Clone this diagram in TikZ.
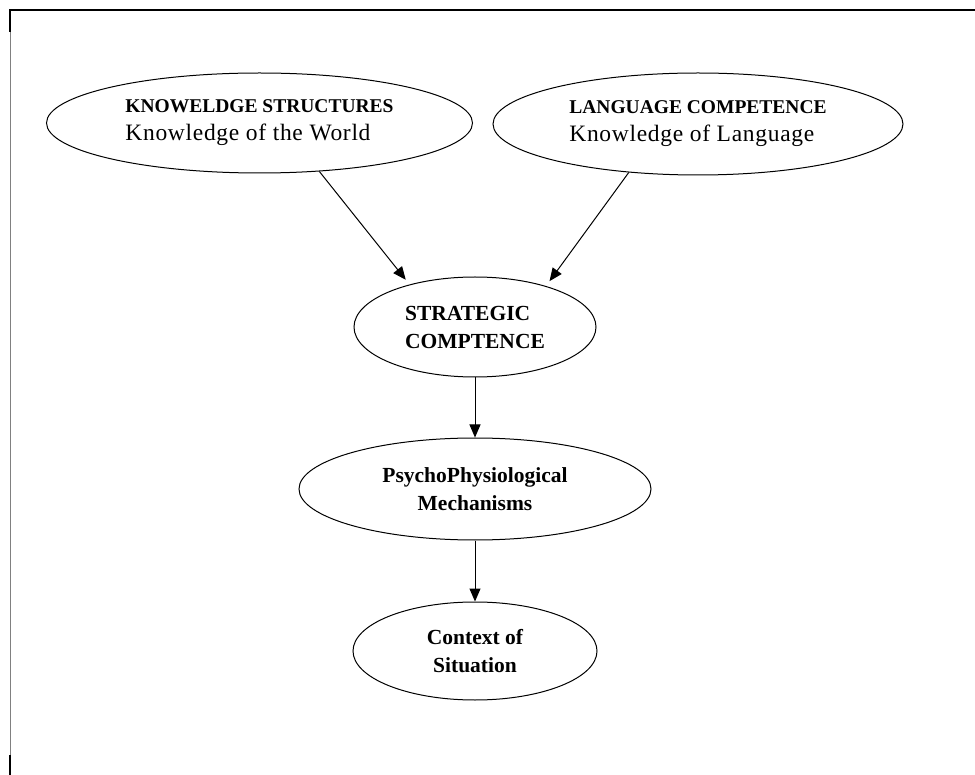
\documentclass[tikz,border=0pt]{standalone}
\usepackage{fontspec}
\setmainfont{Liberation Serif}
\usetikzlibrary{shapes.geometric, positioning, arrows.meta}

\begin{document}
\begin{tikzpicture}[x=1pt,y=1pt,node distance=162pt,on grid,
    blob/.style={ellipse,draw,line width=1pt,inner sep=0pt,
      font=\fontsize{21.5}{28}\selectfont\bfseries},
    flow/.style={-{Triangle[length=13pt,width=11pt]},line width=1pt}]
  \useasboundingbox (0,0) rectangle (975,-775);
  % frame
  \draw[gray,line width=1pt] (10,-10) -- (10,-775);
  \draw[line width=2pt] (10,-32) -- (10,-10) -- (975,-10);
  \draw[line width=2pt] (10,-755) -- (10,-775);

  \node[blob,minimum width=426pt,minimum height=100pt,align=left] (ks) at (259.5,-123)
    {{\fontsize{19.5}{24}\selectfont KNOWELDGE STRUCTURES}\\
     {\fontsize{23.5}{29}\selectfont\mdseries\addfontfeature{LetterSpace=3} Knowledge of the World}};
  \node[blob,minimum width=410pt,minimum height=102pt,align=left] (lc) at (698,-124)
    {{\fontsize{19.5}{24}\selectfont LANGUAGE COMPETENCE}\\
     {\fontsize{23.5}{29}\selectfont\mdseries\addfontfeature{LetterSpace=3} Knowledge of Language}};
  \node[blob,minimum width=242pt,minimum height=100pt,align=left] (sc) at (475,-327)
    {STRATEGIC\\COMPTENCE};
  \node[blob,minimum width=352pt,minimum height=102pt,align=center] (pm) [below=of sc]
    {PsychoPhysiological\\Mechanisms};
  \node[blob,minimum width=244pt,minimum height=98pt,align=center] (cs) [below=of pm]
    {Context of\\Situation};

  \draw[flow,shorten >=6pt] (ks.-39) -- (sc.147);
  \draw[flow,shorten >=6pt] (lc.-145) -- (sc.30);
  \draw[flow] (sc) -- (pm);
  \draw[flow] (pm) -- (cs);
\end{tikzpicture}
\end{document}
